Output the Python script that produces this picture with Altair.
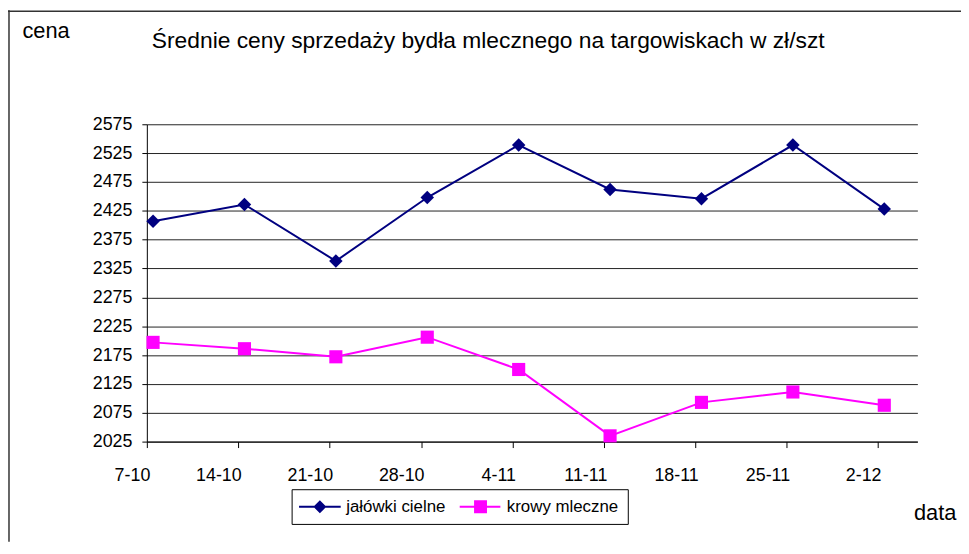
import altair as alt
import pandas as pd

# ---- data ----
dates = ["7-10", "14-10", "21-10", "28-10", "4-11", "11-11", "18-11", "25-11", "2-12"]
jalowki_cielne = [2407, 2436, 2338, 2448, 2539, 2462, 2446, 2539, 2428]
krowy_mleczne = [2197, 2186, 2172, 2206, 2150, 2035, 2093, 2111, 2088]
series = ["jałówki cielne", "krowy mleczne"]
colors = ["#000080", "#FF00FF"]
marker_shapes = ["diamond", "square"]
marker_sizes = [185, 175]
y_ticks = [2025, 2075, 2125, 2175, 2225, 2275, 2325, 2375, 2425, 2475, 2525, 2575]
title_text = "Średnie ceny sprzedaży bydła mlecznego na targowiskach w zł/szt"
y_title = "cena"
x_title = "data"

# legend symbols: a line with the marker in the middle (custom paths)
legend_paths = [
    "M-1.43,-0.15H4.57V0.15H-1.43Z M0.64,0L1.57,-0.93L2.5,0L1.57,0.93Z",
    "M-1.43,-0.15H4.43V0.15H-1.43Z M0.64,-0.93H2.5V0.93H0.64Z",
]

rows = []
for i, d in enumerate(dates):
    rows.append({"i": i, "data": d, "seria": series[0], "cena": jalowki_cielne[i]})
    rows.append({"i": i, "data": d, "seria": series[1], "cena": krowy_mleczne[i]})
df = pd.DataFrame(rows)

FONT = "Liberation Sans"
SHIFT = 0.068
x_domain = [-SHIFT, 8.362]
tick_vals = [round(i - SHIFT, 3) for i in range(len(dates))]
label_expr = "[" + ",".join("'%s'" % d for d in dates) + "][round(datum.value + %s)]" % SHIFT

x_enc = alt.X(
    "i:Q",
    scale=alt.Scale(domain=x_domain, nice=False, zero=False),
    axis=alt.Axis(
        values=tick_vals, labelExpr=label_expr, grid=False,
        title=x_title, titleX=773, titleY=79, titleAlign="left",
        titleBaseline="alphabetic", titleFontSize=22, titleFontWeight="normal",
        labelFontSize=18, labelAlign="right", labelOffset=3, labelPadding=19,
        tickSize=6, labelOverlap=False, labelFlush=False, labelBound=False,
    ),
)
y_enc = alt.Y(
    "cena:Q",
    scale=alt.Scale(domain=[2025, 2575], nice=False, zero=False),
    axis=alt.Axis(
        values=y_ticks, grid=True, gridColor="#222222", format="d",
        title=y_title, titleAngle=0, titleX=-126, titleY=-87, titleAlign="left",
        titleBaseline="alphabetic", titleFontSize=22, titleFontWeight="normal",
        labelFontSize=18, tickSize=5, labelPadding=10, labelOverlap=False,
    ),
)
color_scale = alt.Scale(domain=series, range=colors)

base = alt.Chart(df)
lines = base.mark_line(strokeWidth=2).encode(
    x=x_enc, y=y_enc,
    color=alt.Color("seria:N", scale=color_scale, legend=None),
    order="i:Q",
)
points = base.mark_point(filled=True, opacity=1).encode(
    x=x_enc, y=y_enc,
    color=alt.Color("seria:N", scale=color_scale, legend=None),
    shape=alt.Shape("seria:N", scale=alt.Scale(domain=series, range=marker_shapes), legend=None),
    size=alt.Size("seria:N", scale=alt.Scale(domain=series, range=marker_sizes), legend=None),
)

leg = alt.Legend(
    orient="none", legendX=146, legendY=368, direction="horizontal", title=None,
    symbolSize=196, symbolStrokeWidth=0, labelFontSize=17, labelOffset=29,
    columnPadding=13, padding=9, strokeColor="black", fillColor="white",
    labelFont=FONT, labelColor="black", labelLimit=0,
)
legend_layer = base.transform_filter("false").mark_point(filled=True, opacity=1).encode(
    color=alt.Color("seria:N", scale=color_scale, legend=leg),
    shape=alt.Shape("seria:N", scale=alt.Scale(domain=series, range=legend_paths), legend=leg),
)

one = pd.DataFrame({"k": [0]})
frame_top = alt.Chart(one).mark_rule(color="#333333", strokeWidth=1.5).encode(
    x=alt.value(-140), x2=alt.value(821), y=alt.value(-114)
)
frame_left = alt.Chart(one).mark_rule(color="#333333", strokeWidth=1.5).encode(
    x=alt.value(-139), y=alt.value(-115), y2=alt.value(421)
)

chart = (
    alt.layer(frame_top, frame_left, lines, points, legend_layer)
    .resolve_scale(color="independent", shape="independent", size="independent")
    .properties(
        width=777, height=320,
        autosize=alt.AutoSizeParams(type="none"),
        padding={"left": 140, "top": 115, "right": 44, "bottom": 101},
        title=alt.TitleParams(
            text=title_text, anchor="start", frame="group", dx=5, dy=48,
            fontSize=23, fontWeight="normal", font=FONT, color="black",
        ),
    )
    .configure(font=FONT)
    .configure_view(stroke=None)
    .configure_axis(
        labelFont=FONT, titleFont=FONT, labelColor="black", titleColor="black",
        domainColor="black", tickColor="black", domainWidth=1,
    )
)

chart.save("out.html", embed_options={"renderer": "svg", "actions": False})
